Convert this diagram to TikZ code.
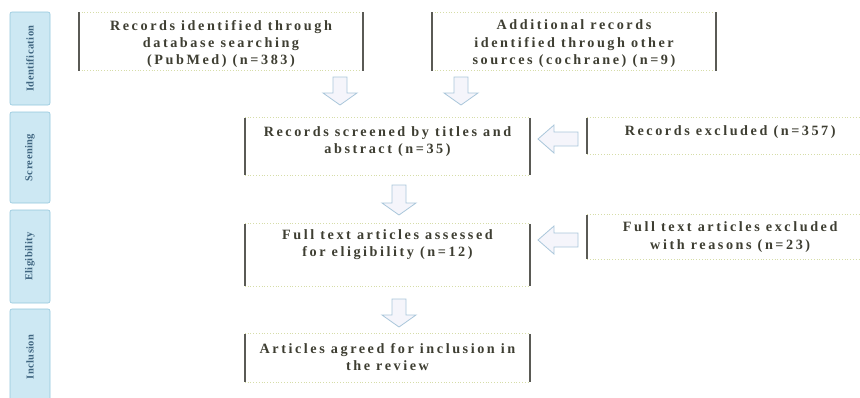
\documentclass[tikz,border=0pt]{standalone}
\usepackage{fontspec}
\setmainfont{Liberation Serif}
\newfontfamily\boxfont[LetterSpace=18]{Liberation Serif}
\newfontfamily\sidefont[LetterSpace=4]{Liberation Serif}
\usetikzlibrary{calc}
\definecolor{txt}{HTML}{3E3E32}
\definecolor{edge}{HTML}{5A5A55}
\definecolor{rim}{HTML}{D6DDA8}
\definecolor{sidefill}{HTML}{CDE8F3}
\definecolor{sidedraw}{HTML}{93C6DC}
\definecolor{sidetxt}{HTML}{3F6580}
\definecolor{arrdraw}{HTML}{A9C6DA}
\definecolor{arrfill}{HTML}{F5F5FB}
\tikzset{
  x=1pt,y=-1pt,
  stagebox/.style={draw=sidedraw,fill=sidefill,rounded corners=2pt,line width=0.6pt,
    minimum width=40,inner sep=0pt},
  stagetext/.style={font=\sidefont\fontsize{10.5}{11}\selectfont\bfseries,text=sidetxt,rotate=90},
  flowbox/.style={fill=white,inner sep=0pt},
  boxtext/.style={inner sep=0pt,anchor=north,font=\boxfont\fontsize{14.2}{17.3}\selectfont\bfseries,
    text=txt,align=center},
  sideline/.style={draw=edge,line width=1.5pt},
  rimline/.style={draw=rim,line width=0.8pt,dotted},
  blockarrow/.style={draw=arrdraw,fill=arrfill,line width=0.8pt,line join=miter},
}
\newcommand{\frameit}[1]{%
  \draw[rimline] (#1.north west) -- (#1.north east);
  \draw[rimline] (#1.south west) -- (#1.south east);
  \draw[sideline] (#1.north west) -- (#1.south west);
  \draw[sideline] (#1.north east) -- (#1.south east);}
\newcommand{\downarr}[3]{%
  \draw[blockarrow] (#1-7,#2) -- (#1+7,#2) -- (#1+7,#3-12) -- (#1+17,#3-12) -- (#1,#3)
    -- (#1-17,#3-12) -- (#1-7,#3-12) -- cycle;}
\newcommand{\leftarr}[3]{%
  \draw[blockarrow] (#2,#3-7) -- (#2,#3+7) -- (#1+16,#3+7) -- (#1+16,#3+14) -- (#1,#3)
    -- (#1+16,#3-14) -- (#1+16,#3-7) -- cycle;}
\begin{document}
\begin{tikzpicture}
\useasboundingbox (0,0) rectangle (860,397);
% stage labels
\node[stagebox,minimum height=93] (st1) at (30,58.5) {};
\node[stagetext] (st1t) at (st1) {Identification};
\node[stagebox,minimum height=91] (st2) at (30,157.5) {};
\node[stagetext] (st2t) at (st2) {Screening};
\node[stagebox,minimum height=93] (st3) at (30,256.5) {};
\node[stagetext] (st3t) at (st3) {Eligibility};
\node[stagebox,minimum height=96] (st4) at (30,357) {};
\node[stagetext] (st4t) at (st4) {Inclusion};
% boxes
\node[flowbox,minimum width=284,minimum height=58] (b1) at (221,41.5) {};
\node[flowbox,minimum width=284,minimum height=58] (b2) at (574,41.5) {};
\node[flowbox,minimum width=285,minimum height=57] (s) at (387.5,146.5) {};
\node[flowbox,minimum width=290,minimum height=36,anchor=west] (e1) at (587,136) {};
\node[flowbox,minimum width=285,minimum height=62] (f) at (387.5,255) {};
\node[flowbox,minimum width=290,minimum height=44,anchor=west] (e2) at (587,237) {};
\node[flowbox,minimum width=285,minimum height=48] (a) at (387.5,358) {};
\frameit{b1}\frameit{b2}\frameit{s}\frameit{e1}\frameit{f}\frameit{e2}\frameit{a}
% texts
\node[boxtext] (b1t) at ($(b1.north)+(0,7.5)$)
  {Records identified through\\database searching\\(PubMed) (n=383)};
\node[boxtext] (b2t) at ($(b2.north)+(0,7.5)$)
  {Additional records\\identified through other\\sources (cochrane) (n=9)};
\node[boxtext] (st) at ($(s.north)+(0,8.5)$)
  {Records screened by titles and\\abstract (n=35)};
\node[boxtext] (e1t) at ($(e1.north)+(-2,8)$)
  {Records excluded (n=357)};
\node[boxtext] (ft) at ($(f.north)+(0,5.5)$)
  {Full text articles assessed\\for eligibility (n=12)};
\node[boxtext] (e2t) at ($(e2.north)+(-2,7)$)
  {Full text articles excluded\\with reasons (n=23)};
\node[boxtext] (at) at ($(a.north)+(0,9)$)
  {Articles agreed for inclusion in\\the review};
% arrows
\downarr{340}{77}{105}
\downarr{461}{77}{105}
\downarr{399}{185}{215}
\downarr{399}{299}{327}
\leftarr{538}{578}{139}
\leftarr{538}{578}{240}
\end{tikzpicture}
\end{document}
